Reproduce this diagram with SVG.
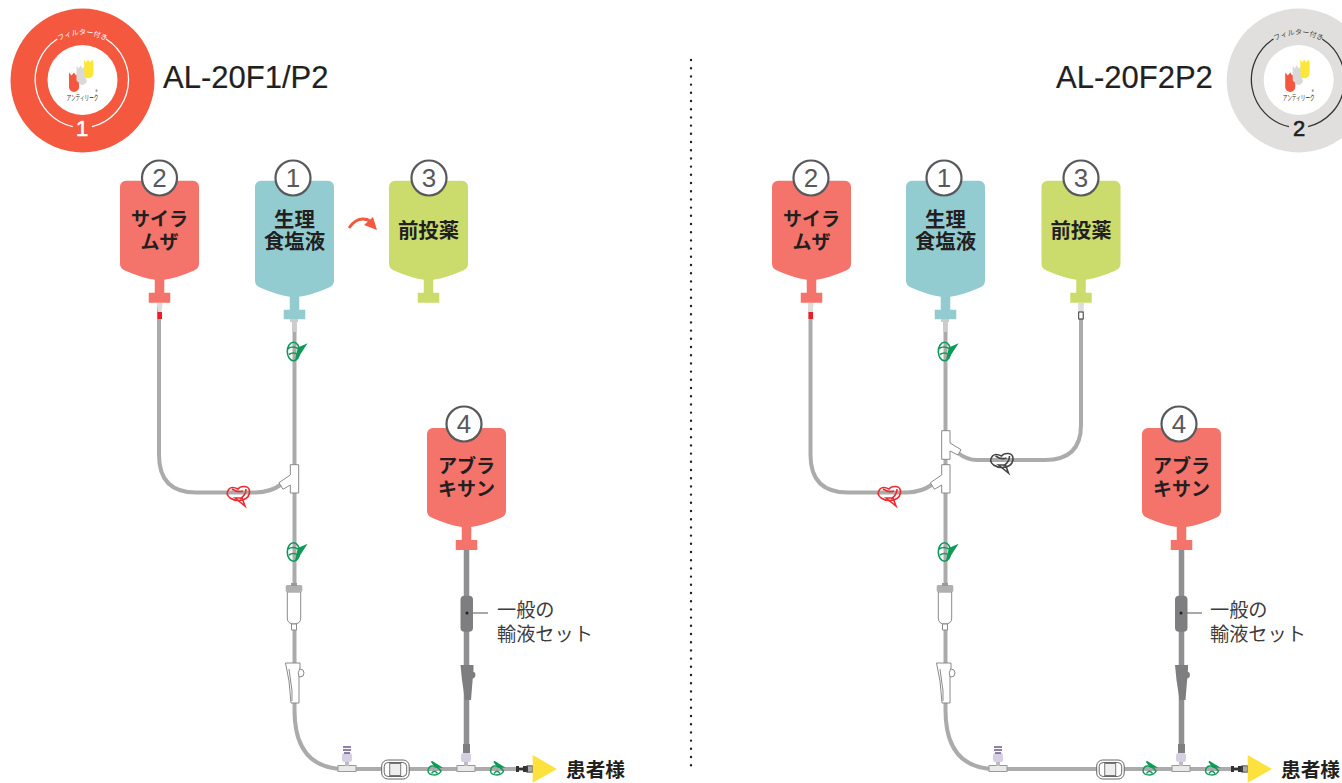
<svg xmlns="http://www.w3.org/2000/svg" xmlns:xlink="http://www.w3.org/1999/xlink" width="1342" height="783" viewBox="0 0 1342 783">
<style>
text{font-family:"Noto Sans CJK JP","Noto Sans",sans-serif;fill:#231f20}
.lbl{font-size:19px;font-weight:700;text-anchor:middle}
.kj{font-size:20.4px}
.num{font-family:"Liberation Sans",sans-serif;font-size:26px;text-anchor:middle;fill:#58595b}
.ttl{font-family:"Liberation Sans",sans-serif;font-size:31px;stroke:#231f20;stroke-width:.2}
.note{font-size:19.2px;fill:#3c3c3c}
.pt{font-size:19.7px;font-weight:700}
.tube{fill:none;stroke:#ababab;stroke-width:4}
.dtube{fill:none;stroke:#8f8f91;stroke-width:5.5}
.ring{fill:none;stroke-width:1.3}
.part{fill:#fff;stroke:#8a8a8a;stroke-width:1}
.badge{fill:#fff;stroke:#58595b;stroke-width:2.2}
.big{font-family:"Liberation Sans",sans-serif;font-size:22px;stroke-width:.6}
</style>
<defs>
<path id="bagS" d="M-39.5 6a6 6 0 0 1 6-6H33.5a6 6 0 0 1 6 6V83Q39.5 88 34 90Q18 97 4.75 99V112H10.75V122H-10.75V112H-4.75V99Q-18 97-34 90Q-39.5 88-39.5 83Z"/>
<path id="bagT" d="M-39.5 6a6 6 0 0 1 6-6H33.5a6 6 0 0 1 6 6V100Q39.5 105 34 107Q18 114 4.75 116V129H10.75V138.5H-10.75V129H-4.75V116Q-18 114-34 107Q-39.5 105-39.5 100Z"/>
<g id="clampG" fill="none" stroke="#0f9a58" stroke-width="1.6">
<ellipse cx="-1.5" cy="0" rx="6.2" ry="9.2"/>
<path d="M-7-3Q-2-6 3-3M-6 3Q-2 0 3 3"/>
<path d="M1 8L10.5-6.5L3.5-3.5Z" fill="#0f9a58"/>
</g>
<g id="clampH" fill="none" stroke="#0f9a58" stroke-width="1.5">
<path d="M-6.5 3Q-6-2-2-2Q3-2 6.5 3Q5 6.5 0 7Q-6 7-6.5 3Z"/>
<path d="M-3-6.5L6-1L1-1Z" fill="#0f9a58"/>
<path d="M-3 5.5Q0 1 3 5.5"/>
</g>
<g id="clampR" fill="none" stroke-width="1.6">
<path d="M0-5Q-6-8-9-5Q-13 0-8 4Q-3 7 1 6.5Q10 6 11.5-1Q12-7 7-7.5Q2-8 0-5Z"/>
<path d="M-6-5Q0-1 5-3M8-5Q8 1 2 5M-3 4L7 12L4 4Z"/>
</g>
<g id="chamber">
<path class="part" d="M-6.7 7H6.7V33Q6.7 39 0 39Q-6.7 39-6.7 33Z"/>
<rect x="-8.3" y="0" width="16.6" height="7" rx="1.5" fill="#b0b0b0"/>
<rect x="-3" y="-2" width="6" height="3" fill="#9a9a9a"/>
<path d="M-2.5 39H2.5V45H-2.5Z" class="part"/>
</g>
<g id="ctl">
<circle cx="6" cy="10" r="4" class="part"/>
<path class="part" d="M-8.5 0H6V5Q3 10 5 14V40H-3L-5 18Z"/>
<path d="M-5 6L-2 28V38" fill="none" stroke="#8a8a8a" stroke-width="1"/>
</g>
<g id="port">
<rect x="-9" y="-3.5" width="18" height="6" fill="#e9e9e9" stroke="#9a9a9a" stroke-width="1"/>
<rect x="-2" y="-8" width="4" height="5" fill="#bdbdbd"/>
<rect x="-5" y="-16" width="10" height="9" rx="2.5" fill="#d6cfe4"/>
</g>
<g id="lure">
<path d="M0-3H3V-1H7V-3H12V3H7V1H3V3H0Z" fill="#333"/>
<rect x="11" y="-3" width="6" height="6" fill="none" stroke="#444" stroke-width="1.2"/>
</g>
<g id="roller">
<rect x="0" y="0" width="27.5" height="19" rx="6" fill="#fff" stroke="#666" stroke-width="1"/>
<rect x="2.5" y="2.5" width="22.5" height="14" rx="4" fill="#fff" stroke="#666" stroke-width="1"/>
<rect x="8" y="3.5" width="11" height="12" fill="#eee" stroke="#777" stroke-width="1"/>
</g>
<g id="logo">
<path d="M-13.5-7.5l2.5 3l2.5-3l2 3l3-3V7a5 5 0 0 1-10 0Z" fill="#f4563f"/>
<path d="M-6-14.5l2 3l2-3l2 3l3-3V-2a4 4 0 0 1-6 5.5l-3-3Z" fill="#d9d9d9"/>
<path d="M1.5-20.5l2 3l2-3l2 3l2-3l1.5 3V-6a5.5 5.5 0 0 1-9 3Z" fill="#fce739"/>
<text x="0" y="20" text-anchor="middle" style="font-size:7.4px" textLength="32" lengthAdjust="spacingAndGlyphs">アンティリーク</text>
<text x="14" y="13" text-anchor="middle" style="font-size:4px">®</text>
</g>
<path id="arcT" d="M59 41A46.5 46.5 0 0 1 106 41"/>
<path id="arcT2" d="M1275 41A46.5 46.5 0 0 1 1322 41"/>
</defs>

<g id="connectors">
<path class="tube" d="M159 303V455Q159 492.5 196 492.5H256Q270 492.5 282 484"/>
<path class="tube" d="M294.5 319V710Q294.5 769 345 769H533"/>
<path class="dtube" d="M466.5 550V752"/>
<path class="tube" d="M810.5 303V455Q810.5 492.5 848 492.5H907Q921 492.5 933 484"/>
<path class="tube" d="M945.5 319V710Q945.5 769 996 769H1248"/>
<path class="tube" d="M1081 303V425Q1081 460 1045 460H977Q967 460 958 453"/>
<path class="dtube" d="M1181.5 550V752"/>
<path d="M691 60V772" fill="none" stroke="#222" stroke-width="2.4" stroke-linecap="round" stroke-dasharray="0 8.2"/>
<path d="M467 613H488" fill="none" stroke="#555" stroke-width="1"/>
<path d="M1181 613H1202" fill="none" stroke="#555" stroke-width="1"/>
</g>

<g id="badge-1">
<circle cx="82.5" cy="80.5" r="72" fill="#f4583f"/>
<circle cx="82.5" cy="80" r="35" fill="#fff"/>
<path class="ring" stroke="#fff" d="M72.7 126.7A48.3 48.3 0 0 1 57.3 39M106 39A48.3 48.3 0 0 1 92 126.7"/>
<text style="font-size:7px;fill:#fff" text-anchor="middle"><textPath xlink:href="#arcT" href="#arcT" startOffset="50%">フィルター付き</textPath></text>
<text class="big" x="82" y="136" text-anchor="middle" style="fill:#fff;stroke:#fff">1</text>
<use href="#logo" x="82.5" y="80"/>
</g>
<g id="title-1"><text class="ttl" x="163" y="88">AL-20F1/P2</text></g>

<g id="badge-2">
<circle cx="1298.7" cy="80.5" r="72" fill="#e0dfdd"/>
<circle cx="1298.7" cy="80" r="35" fill="#fff"/>
<path class="ring" stroke="#333" d="M1289 126.7A48.3 48.3 0 0 1 1273.5 39M1322.2 39A48.3 48.3 0 0 1 1308 126.7"/>
<text style="font-size:7px;fill:#444" text-anchor="middle"><textPath xlink:href="#arcT2" href="#arcT2" startOffset="50%">フィルター付き</textPath></text>
<text class="big" x="1299" y="136" text-anchor="middle" style="stroke:#231f20">2</text>
<use href="#logo" x="1298.7" y="80"/>
</g>
<g id="title-2"><text class="ttl" x="1056" y="88">AL-20F2P2</text></g>

<g id="bag-l2"><use href="#bagS" x="159.5" y="180.7" fill="#f4736a"/><circle class="badge" cx="159.5" cy="178" r="17.5"/><text class="num" x="159.5" y="187">2</text><text class="lbl" x="159.5" y="226">サイラ</text><text class="lbl" x="159.5" y="249">ムザ</text></g>
<g id="bag-l1"><use href="#bagT" x="294.5" y="180.7" fill="#92cbd0"/><circle class="badge" cx="293" cy="178" r="17.5"/><text class="num" x="293" y="187">1</text><text class="lbl kj" x="294.5" y="227">生理</text><text class="lbl kj" x="294.5" y="249">食塩液</text></g>
<g id="bag-l3"><use href="#bagS" x="428.5" y="180.7" fill="#cbdc6c"/><circle class="badge" cx="429" cy="178" r="17.5"/><text class="num" x="429" y="187">3</text><text class="lbl kj" x="428.5" y="238">前投薬</text></g>
<g id="bag-l4"><use href="#bagS" x="466.5" y="428" fill="#f4736a"/><circle class="badge" cx="464" cy="424" r="17.5"/><text class="num" x="464" y="433">4</text><text class="lbl" x="466.5" y="473">アブラ</text><text class="lbl" x="466.5" y="496">キサン</text></g>
<g id="order-arrow"><path d="M349 228Q355 219 363 219Q368 219 371 222" fill="none" stroke="#f4583f" stroke-width="2.8"/><path d="M377 230L364 225L373 217Z" fill="#f4583f"/></g>

<g id="set-l">
<path d="M156.7 303H162.7L161.5 312H158Z" fill="#ddd"/><rect x="157.5" y="312" width="4.5" height="7" fill="#ee1c25"/>
<path d="M290 319H298V322H296.5V332H292V322H290Z" fill="#ccc"/>
<use href="#clampG" x="295" y="351.5"/>
<use href="#clampR" x="238" y="494" stroke="#ee2a30"/>
<path class="part" d="M290.3 464.7H298.7V493H290.3V485L283 489.3L279 482.7L290.3 475Z"/>
<use href="#clampG" x="295" y="552"/>
<use href="#chamber" x="294" y="585"/>
<use href="#ctl" x="294" y="663"/>
<use href="#port" x="347" y="769"/>
<path d="M343 747H351M343 750H351M344 753H350" stroke="#6a5a8c" stroke-width="1.6"/>
<use href="#roller" x="381.7" y="760"/>
<use href="#clampH" x="434.5" y="768"/>
<use href="#port" x="466" y="769"/>
<use href="#clampH" x="497" y="768"/>
<use href="#lure" x="516" y="769"/>
<path d="M532.7 755L557 769L532.7 782.7Z" fill="#fde23d"/>
<rect x="460.5" y="595.7" width="12.5" height="36" rx="4" fill="#7e7e80"/><circle cx="467" cy="613" r="1.5" fill="#222"/>
<path d="M460.5 665H473.5V669L471 700H465L462 680Z" fill="#7e7e80"/><circle cx="472" cy="675" r="3.4" fill="#7e7e80"/>
<rect x="463" y="744" width="7" height="9" fill="#7e7e80"/>
</g>
<g id="note-l"><text class="note" x="497" y="617">一般の</text><text class="note" x="497" y="641">輸液セット</text></g>
<g id="patient-l"><text class="pt" x="566" y="777">患者様</text></g>

<g id="bag-r2"><use href="#bagS" x="811.5" y="180.7" fill="#f4736a"/><circle class="badge" cx="811" cy="178" r="17.5"/><text class="num" x="811" y="187">2</text><text class="lbl" x="811.5" y="226">サイラ</text><text class="lbl" x="811.5" y="249">ムザ</text></g>
<g id="bag-r1"><use href="#bagT" x="945.5" y="180.7" fill="#92cbd0"/><circle class="badge" cx="944" cy="178" r="17.5"/><text class="num" x="944" y="187">1</text><text class="lbl kj" x="945.5" y="227">生理</text><text class="lbl kj" x="945.5" y="249">食塩液</text></g>
<g id="bag-r3"><use href="#bagS" x="1081" y="180.7" fill="#cbdc6c"/><circle class="badge" cx="1081" cy="178" r="17.5"/><text class="num" x="1081" y="187">3</text><text class="lbl kj" x="1081" y="238">前投薬</text></g>
<g id="bag-r4"><use href="#bagS" x="1181.5" y="428" fill="#f4736a"/><circle class="badge" cx="1179" cy="424" r="17.5"/><text class="num" x="1179" y="433">4</text><text class="lbl" x="1181.5" y="473">アブラ</text><text class="lbl" x="1181.5" y="496">キサン</text></g>

<g id="set-r">
<path d="M807.7 303H813.7L812.5 312H809Z" fill="#ddd"/><rect x="808.5" y="312" width="4.5" height="7" fill="#ee1c25"/>
<path d="M1078 303H1084L1083.5 312H1078.5Z" fill="#ddd"/><rect x="1078.7" y="312" width="4.5" height="7" fill="#fff" stroke="#333" stroke-width="1"/>
<path d="M941 319H949V322H947.5V332H943V322H941Z" fill="#ccc"/>
<use href="#clampG" x="946" y="351.5"/>
<use href="#clampR" x="889" y="494" stroke="#ee2a30"/>
<use href="#clampR" x="1001.5" y="461" stroke="#444"/>
<path class="part" d="M941.7 464.7H950V493H941.7V485L934.4 489.3L930.4 482.7L941.7 475Z"/>
<path class="part" d="M941.7 430.7H950V443L961 449.7L958 455L950 451V459.3H941.7Z"/>
<use href="#clampG" x="946" y="552"/>
<use href="#chamber" x="945" y="585"/>
<use href="#ctl" x="945" y="663"/>
<use href="#port" x="998" y="769"/>
<path d="M994 747H1002M994 750H1002M995 753H1001" stroke="#6a5a8c" stroke-width="1.6"/>
<use href="#roller" x="1096.7" y="760"/>
<use href="#clampH" x="1149.5" y="768"/>
<use href="#port" x="1181" y="769"/>
<use href="#clampH" x="1212" y="768"/>
<use href="#lure" x="1231" y="769"/>
<path d="M1247.7 755L1272 769L1247.7 782.7Z" fill="#fde23d"/>
<rect x="1175" y="595.7" width="12.5" height="36" rx="4" fill="#7e7e80"/><circle cx="1181" cy="613" r="1.5" fill="#222"/>
<path d="M1175 665H1188V669L1185.5 700H1179.5L1176.5 680Z" fill="#7e7e80"/><circle cx="1186.5" cy="675" r="3.4" fill="#7e7e80"/>
<rect x="1178" y="744" width="7" height="9" fill="#7e7e80"/>
</g>
<g id="note-r"><text class="note" x="1210" y="617">一般の</text><text class="note" x="1210" y="641">輸液セット</text></g>
<g id="patient-r"><text class="pt" x="1281" y="777">患者様</text></g>
</svg>
